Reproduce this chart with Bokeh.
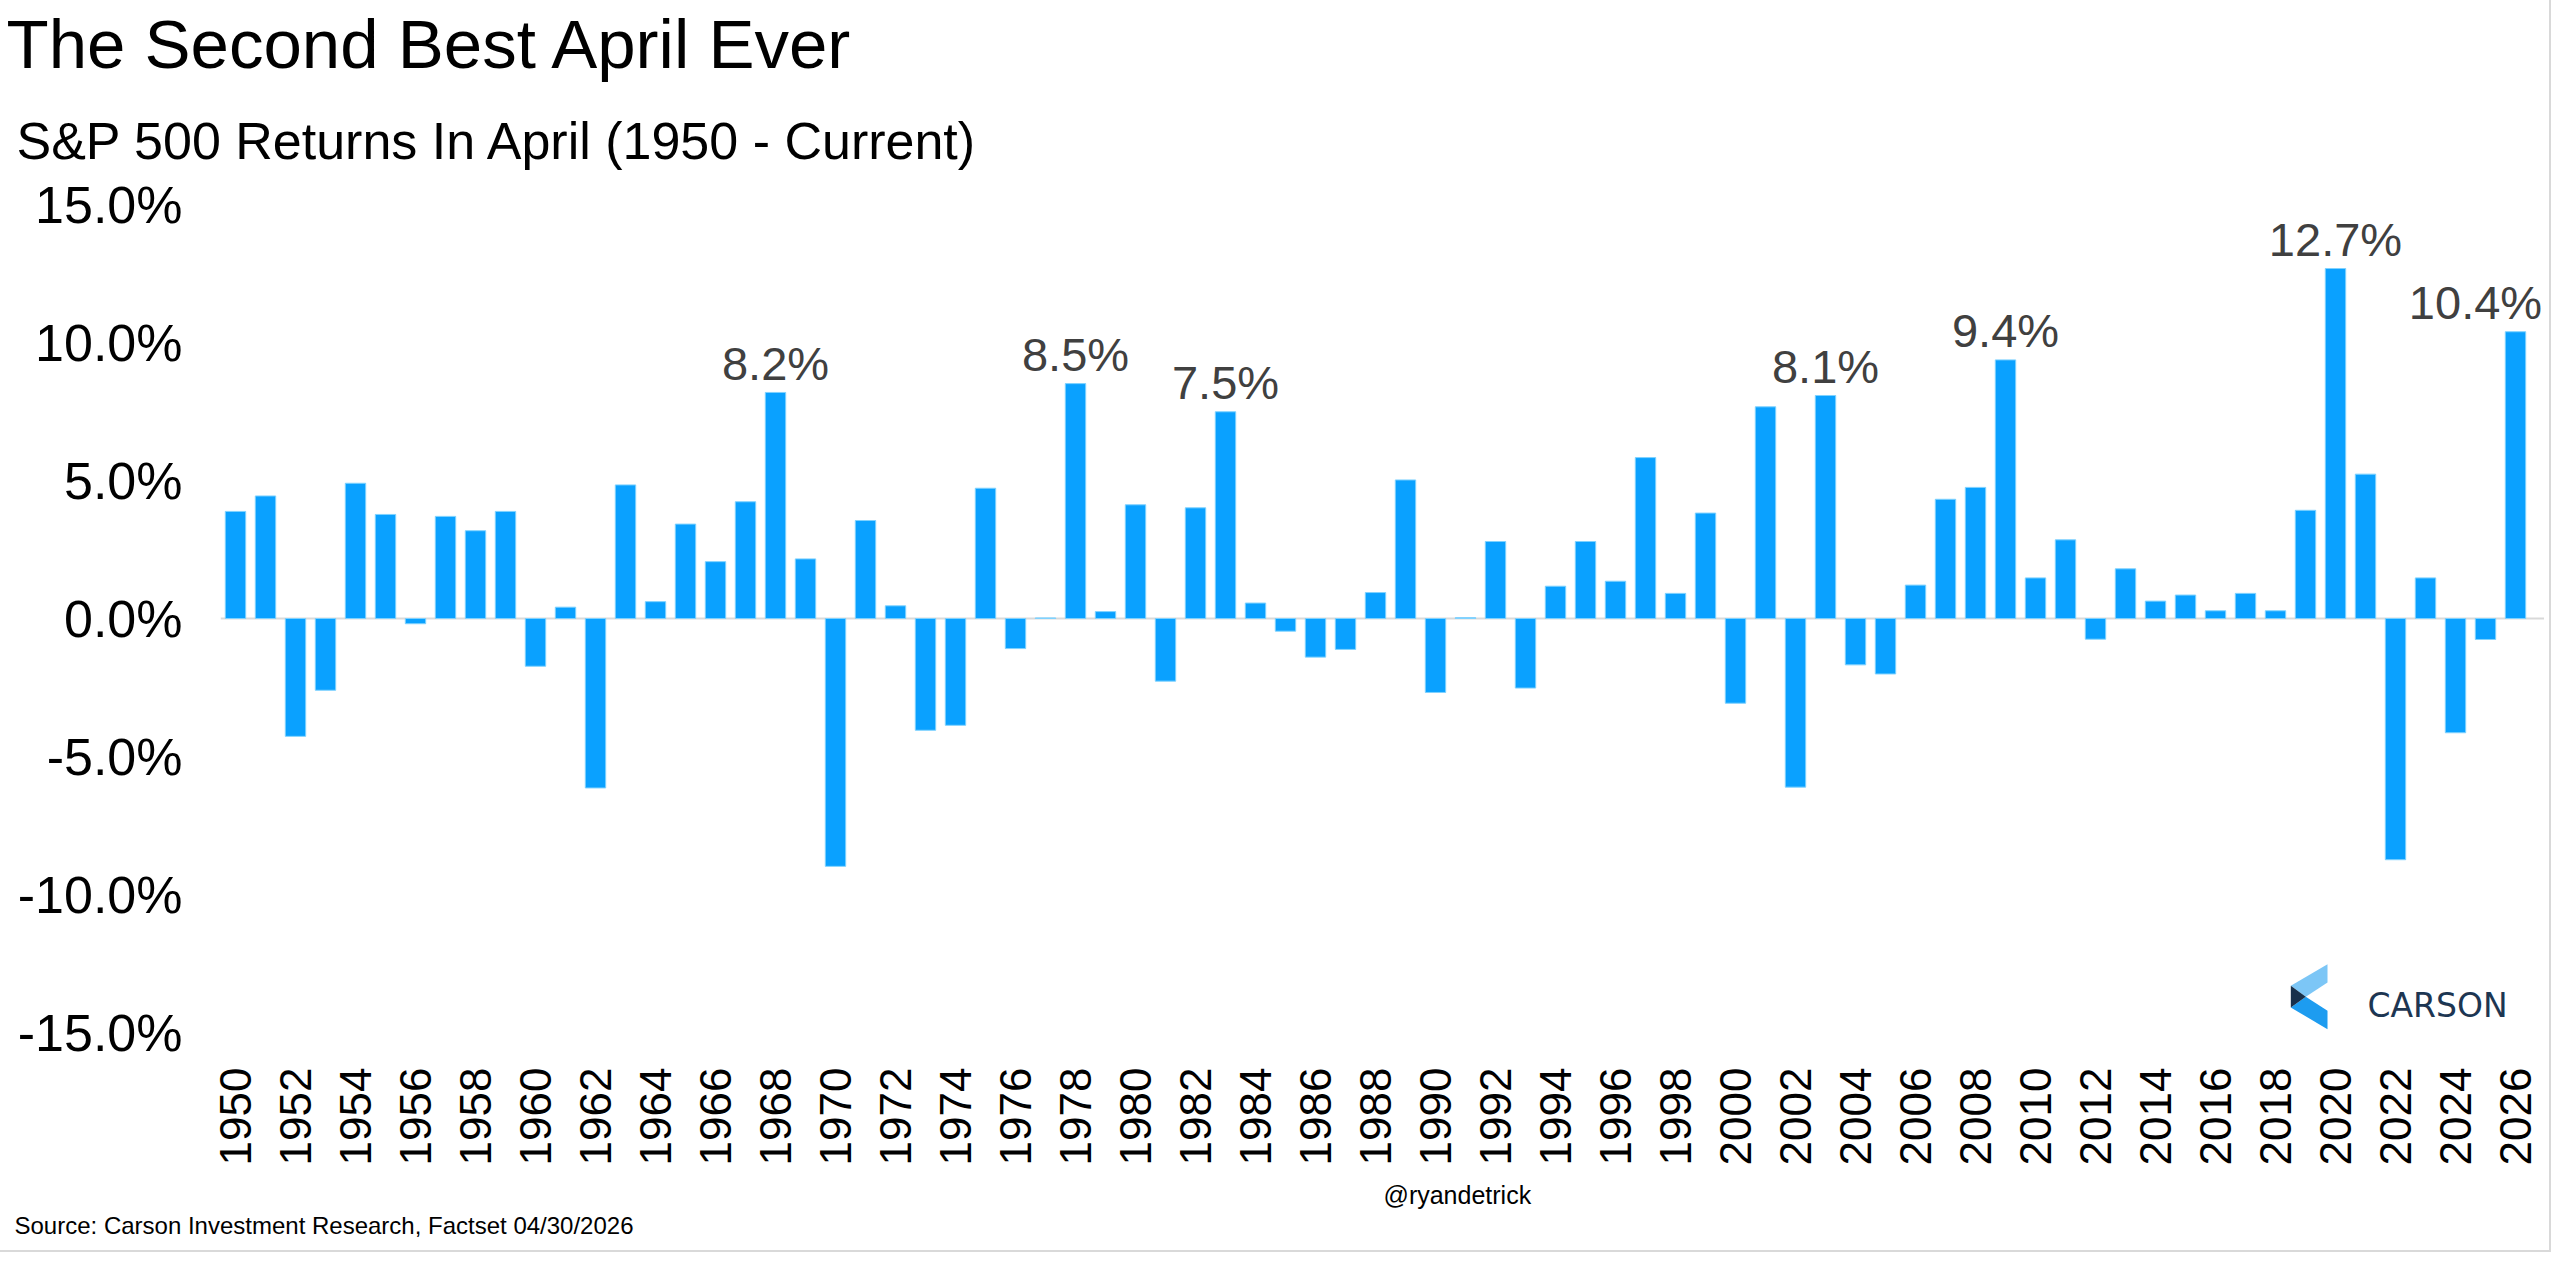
import math
from bokeh.plotting import figure
from bokeh.models import ColumnDataSource, FixedTicker, Span, Label, Range1d, Title
from bokeh.core.properties import value
from bokeh.embed import file_html
from bokeh.resources import INLINE

# ---------------- data ----------------
years = list(range(1950, 2027))
returns = [
    3.88, 4.44, -4.27, -2.60, 4.90, 3.77, -0.19, 3.70, 3.18, 3.88,      # 1950-1959
    -1.73, 0.41, -6.14, 4.84, 0.61, 3.42, 2.06, 4.23, 8.19, 2.16,       # 1960-1969
    -8.98, 3.55, 0.46, -4.05, -3.87, 4.72, -1.09, 0.02, 8.51, 0.25,     # 1970-1979
    4.12, -2.27, 4.01, 7.49, 0.56, -0.46, -1.40, -1.12, 0.94, 5.02,     # 1980-1989
    -2.68, 0.03, 2.79, -2.52, 1.17, 2.79, 1.35, 5.83, 0.91, 3.82,       # 1990-1999
    -3.07, 7.67, -6.11, 8.08, -1.68, -2.01, 1.21, 4.32, 4.75, 9.37,     # 2000-2009
    1.47, 2.85, -0.75, 1.80, 0.63, 0.85, 0.28, 0.91, 0.28, 3.92,        # 2010-2019
    12.68, 5.23, -8.74, 1.47, -4.14, -0.76, 10.39,                      # 2020-2026
]
labeled_years = [1968, 1978, 1983, 2003, 2009, 2020, 2026]
y_ticks = [-15, -10, -5, 0, 5, 10, 15]
x_tick_years = list(range(1950, 2027, 2))

title_text = "The Second Best April Ever"
subtitle_text = "S&P 500 Returns In April (1950 - Current)"
source_text = "Source: Carson Investment Research, Factset 04/30/2026"
handle_text = "@ryandetrick"
logo_text = "CARSON"

# ---------------- geometry ----------------
W, H = 2544, 1245
FL, FR, FT, FB = 220, 0, 204, 213
SLOT = 30.0                      # pixels per year
X0 = 1949.5
FW = W - FL - FR
FH = H - FT - FB
X1 = X0 + FW / SLOT
Y0, Y1 = -15.0, 15.0


def px2x(px):
    return X0 + (px - FL) / FW * (X1 - X0)


def px2y(py):
    return Y1 - (py - FT) / FH * (Y1 - Y0)


FONT = "Liberation Sans"
BAR = "#0aa1ff"

p = figure(width=W, height=H, x_range=Range1d(X0, X1), y_range=Range1d(Y0, Y1),
           output_backend="svg", toolbar_location=None, tools="",
           min_border_left=FL, min_border_right=FR, min_border_top=FT, min_border_bottom=FB)
p.styles = {"outline": "2px solid #d9d9d9", "outline-offset": "5px"}
p.outline_line_color = None
p.xgrid.visible = False
p.ygrid.visible = False
p.background_fill_color = "white"
p.border_fill_color = "white"

# zero line
p.add_layout(Span(location=0, dimension="width", line_color="#d9d9d9", line_width=2, level="underlay"))

# bars
src = ColumnDataSource(dict(year=years, ret=returns))
p.vbar(x="year", top="ret", bottom=0, width=0.68, source=src,
       fill_color=BAR, line_color="#7fd2ff", line_width=1)

# data labels
px_per_unit = FH / (Y1 - Y0)
lab_y, lab_x, lab_t, lab_xo = [], [], [], []
for yr, r in zip(years, returns):
    if yr in labeled_years:
        lab_x.append(yr)
        lab_y.append(r + 29 / px_per_unit)
        lab_t.append(f"{r:.1f}%")
        lab_xo.append(-40 if yr == years[-1] else 0)
lsrc = ColumnDataSource(dict(x=lab_x, y=lab_y, t=lab_t, xo=lab_xo))
p.text(x="x", y="y", text="t", source=lsrc, x_offset="xo", text_align="center", text_baseline="middle",
       text_font=value(FONT), text_font_size="47px", text_color="#404040")

# y axis
p.yaxis.ticker = FixedTicker(ticks=y_ticks)
p.yaxis.major_label_overrides = {t: f"{t:.1f}%" for t in y_ticks}
p.yaxis.major_label_text_font = FONT
p.yaxis.major_label_text_font_size = "52px"
p.yaxis.major_label_text_color = "#000000"
p.yaxis.major_label_standoff = 38
p.yaxis.axis_line_color = None
p.yaxis.major_tick_line_color = None
p.yaxis.minor_tick_line_color = None
p.yaxis.major_tick_out = 0
p.yaxis.major_tick_in = 0

# x axis
p.xaxis.ticker = FixedTicker(ticks=x_tick_years)
p.xaxis.major_label_overrides = {y: str(y) for y in x_tick_years}
p.xaxis.major_label_orientation = math.pi / 2
p.xaxis.major_label_text_font = FONT
p.xaxis.major_label_text_font_size = "44px"
p.xaxis.major_label_text_color = "#000000"
p.xaxis.major_label_standoff = 35
p.xaxis.axis_line_color = None
p.xaxis.major_tick_line_color = None
p.xaxis.minor_tick_line_color = None
p.xaxis.major_tick_out = 0
p.xaxis.major_tick_in = 0

# titles (above: first added is nearest the frame)
p.add_layout(Title(text=subtitle_text, align="left", vertical_align="top", offset=-204, standoff=65,
                   text_font=FONT, text_font_size="52px", text_font_style="normal",
                   text_color="#000000"), "above")
p.add_layout(Title(text=title_text, align="left", vertical_align="top", offset=-214, standoff=-10,
                   text_font=FONT, text_font_size="69px", text_font_style="normal",
                   text_color="#000000"), "above")

# footer (below: first added is nearest the axis)
p.add_layout(Title(text=handle_text, align="left", offset=1163, standoff=21,
                   text_font=FONT, text_font_size="25px", text_font_style="normal",
                   text_color="#000000"), "below")
p.add_layout(Title(text=source_text, align="left", offset=-206, standoff=-19.5,
                   text_font=FONT, text_font_size="24px", text_font_style="normal",
                   text_color="#000000"), "below")

# logo (decoration)
logo_upper = [(2327, 963.7), (2327, 982.0), (2305.3, 996.3), (2290.3, 985.3)]
logo_mid = [(2290.3, 985.3), (2305.3, 996.3), (2290.3, 1007.0)]
logo_lower = [(2290.3, 1007.0), (2305.3, 996.3), (2327, 1010.3), (2327, 1028.7)]
for pts, col in ((logo_upper, "#7cc6f6"), (logo_lower, "#1d9cf0"), (logo_mid, "#17304b")):
    p.patch([px2x(a) for a, b in pts], [px2y(b) for a, b in pts], fill_color=col, line_color=None)
p.add_layout(Label(x=px2x(2437), y=px2y(1005), text=logo_text, text_font="DejaVu Sans",
                   text_font_size="33px", text_color="#1d3652",
                   text_align="center", text_baseline="alphabetic"))

open("out.html", "w").write(file_html(p, INLINE))
